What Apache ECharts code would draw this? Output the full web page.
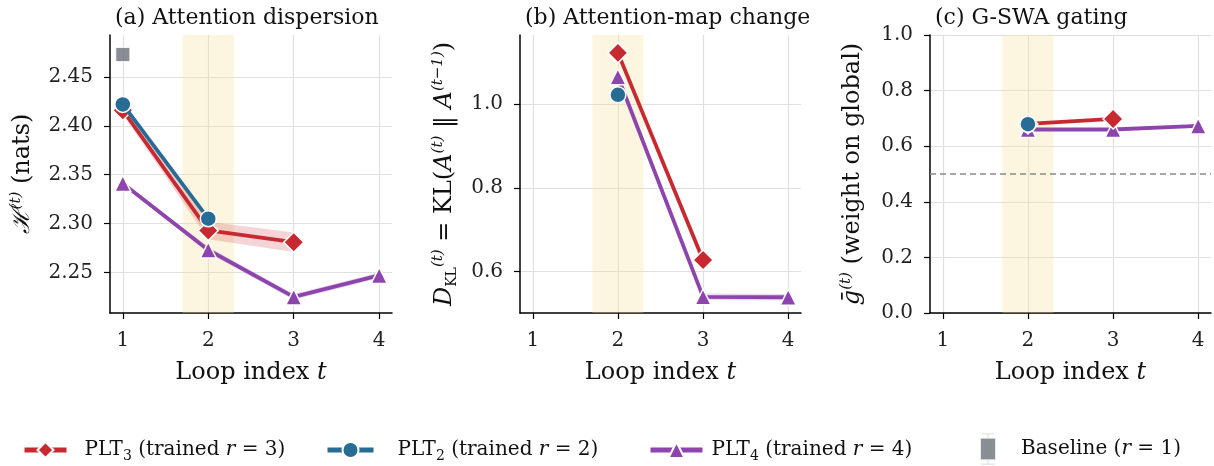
<!DOCTYPE html>
<html>
<head>
<meta charset="utf-8">
<script src="https://cdn.jsdelivr.net/npm/echarts@6/dist/echarts.min.js"></script>
<style>
  html, body { margin: 0; padding: 0; background: #fff; }
  #chart { width: 1214px; height: 466px; }
</style>
</head>
<body>
<div id="chart"></div>
<script>
// loop indices
var loops = [1, 2, 3, 4];
var xTicks = [1, 2, 3, 4];

// (a) attention entropy per loop
var plt3Entropy = [2.416, 2.293, 2.281];
var plt3EntropyErr = [0.004, 0.009, 0.010];
var plt2Entropy = [2.422, 2.305];
var plt4Entropy = [2.341, 2.273, 2.225, 2.247];
var plt4EntropyErr = [0.002, 0.003, 0.003, 0.003];
var baselineEntropy = [2.473];
var entropyTicks = [2.25, 2.30, 2.35, 2.40, 2.45];

// (b) KL change between loops (starts at t = 2)
var klLoops = [2, 3, 4];
var plt3Kl = [1.122, 0.628];
var plt2Kl = [1.022];
var plt4Kl = [1.065, 0.540, 0.539];
var plt4KlErr = [0.004, 0.008, 0.008];
var klTicks = [0.6, 0.8, 1.0];

// (c) gate weight on global branch
var plt3Gate = [0.680, 0.698];
var plt2Gate = [0.679];
var plt4Gate = [0.660, 0.660, 0.673];
var gateRef = 0.5;

var FONT = '"DejaVu Serif", "Liberation Serif", serif';
var RED = '#c62a30', BLUE = '#276c94', PURPLE = '#8e44ad', GRAY = '#6b7079';

var chart = echarts.init(document.getElementById('chart'));

function pairs(xs, ys) {
  return ys.map(function (v, i) { return [xs[i], v]; });
}
function bandData(xs, ys, err) {
  return ys.map(function (v, i) { return [xs[i], v - err[i], v + err[i]]; });
}

var richLabel = {
  n: { fontFamily: FONT, fontSize: 24, color: '#111', lineHeight: 28, verticalAlign: 'middle' },
  it: { fontFamily: FONT, fontSize: 24, fontStyle: 'italic', color: '#111', lineHeight: 28, verticalAlign: 'middle' },
  sup: { fontFamily: FONT, fontSize: 15, fontStyle: 'italic', color: '#111', lineHeight: 14, verticalAlign: 'top' },
  sub: { fontFamily: FONT, fontSize: 14, color: '#111', lineHeight: 14, verticalAlign: 'bottom' }
};

var grids = [
  { left: 110, top: 35, width: 282, height: 278, outerBoundsMode: 'none' },
  { left: 520, top: 35, width: 281, height: 278, outerBoundsMode: 'none' },
  { left: 930, top: 35, width: 281, height: 278, outerBoundsMode: 'none' }
];

function xAxisFor(i) {
  return {
    type: 'value', gridIndex: i, min: 0.85, max: 4.15,
    axisLine: { show: true, onZero: false, lineStyle: { color: '#000', width: 1.5 } },
    axisTick: { show: true, customValues: xTicks, length: 6, lineStyle: { color: '#000', width: 1.2 } },
    axisLabel: { customValues: xTicks, fontFamily: FONT, fontSize: 20, color: '#222', margin: 18 },
    splitLine: { show: true, lineStyle: { color: '#e0e0e0', width: 1.2 } },
    name: '{n|Loop index }{it|t}', nameLocation: 'middle', nameGap: 46,
    nameTextStyle: { rich: richLabel }
  };
}
function yAxisFor(i, o) {
  var ax = {
    type: 'value', gridIndex: i, min: o.min, max: o.max,
    axisLine: { show: true, onZero: false, lineStyle: { color: '#000', width: 1.5 } },
    axisTick: { show: true, length: 6, lineStyle: { color: '#000', width: 1.2 } },
    axisLabel: { fontFamily: FONT, fontSize: 20, color: '#222', margin: 17, formatter: o.fmt },
    splitLine: { show: true, lineStyle: { color: '#e0e0e0', width: 1.2 } },
    name: o.name, nameLocation: 'middle', nameGap: o.gap, nameRotate: 90,
    nameTextStyle: { rich: richLabel }
  };
  if (o.ticks) {
    ax.axisTick.customValues = o.ticks;
    ax.axisLabel.customValues = o.ticks;
  } else {
    ax.interval = o.interval;
  }
  return ax;
}

function lineSeries(name, gi, data, color, symbol, size, z) {
  return {
    name: name, type: 'line', xAxisIndex: gi, yAxisIndex: gi, data: data,
    symbol: symbol, symbolSize: size, z: z,
    lineStyle: { color: color, width: 3.8 },
    itemStyle: { color: color, borderColor: '#fff', borderWidth: 1.5 },
    emphasis: { disabled: true }, animation: false
  };
}
function band(gi, data, color) {
  return {
    type: 'custom', xAxisIndex: gi, yAxisIndex: gi, data: data, z: 1, silent: true,
    encode: { x: 0, y: [1, 2] },
    renderItem: function (params, api) {
      if (params.dataIndex !== 0) return;
      var top = [], bottom = [];
      data.forEach(function (d) {
        top.push(api.coord([d[0], d[2]]));
        bottom.unshift(api.coord([d[0], d[1]]));
      });
      return { type: 'polygon', shape: { points: top.concat(bottom) }, style: { fill: color } };
    },
    animation: false
  };
}
function shade(gi) {
  return {
    type: 'line', xAxisIndex: gi, yAxisIndex: gi, data: [], z: 0, silent: true,
    markArea: {
      silent: true,
      itemStyle: { color: 'rgba(245, 222, 150, 0.3)' },
      data: [[{ xAxis: 1.7 }, { xAxis: 2.3 }]]
    }
  };
}

var legendText = {
  PLT3: '{n|PLT}{sub|3}{n| (trained }{it|r}{n| = 3)}',
  PLT2: '{n|PLT}{sub|2}{n| (trained }{it|r}{n| = 2)}',
  PLT4: '{n|PLT}{sub|4}{n| (trained }{it|r}{n| = 4)}',
  Baseline: '{n|Baseline (}{it|r}{n| = 1)}'
};
var legendRich = {
  n: { fontFamily: FONT, fontSize: 20, color: '#111', lineHeight: 26, verticalAlign: 'middle' },
  it: { fontFamily: FONT, fontSize: 20, fontStyle: 'italic', color: '#111', lineHeight: 26, verticalAlign: 'middle' },
  sub: { fontFamily: FONT, fontSize: 14, color: '#111', lineHeight: 13, verticalAlign: 'bottom' }
};
function legendAt(left, top, items, w, h, pad) {
  return {
    left: left, top: top, orient: 'horizontal', data: items,
    itemWidth: w, itemHeight: h, selectedMode: false,
    lineStyle: { width: 5 },
    formatter: function (name) { return legendText[name]; },
    textStyle: { padding: [0, 0, 0, pad], rich: legendRich }
  };
}
var baselineIcon = 'path://M2,0H10V1H2Z M5.5,1H6.5V3H5.5Z M1,3H11V17H1Z M5.5,17H6.5V19H5.5Z M2,19H10V20H2Z';

var option = {
  backgroundColor: '#fff',
  animation: false,
  title: [
    { text: '(a) Attention dispersion', left: 110, top: 2 },
    { text: '(b) Attention-map change', left: 520, top: 2 },
    { text: '(c) G-SWA gating', left: 930, top: 2 }
  ].map(function (t) {
    t.textStyle = { fontFamily: FONT, fontSize: 22, fontWeight: 'normal', color: '#111' };
    return t;
  }),
  grid: grids,
  xAxis: [xAxisFor(0), xAxisFor(1), xAxisFor(2)],
  yAxis: [
    yAxisFor(0, { min: 2.2085, max: 2.493, ticks: entropyTicks, fmt: function (v) { return v.toFixed(2); },
      name: '{it|ℋ}{sup|(t)}{n| (nats)}', gap: 73 }),
    yAxisFor(1, { min: 0.5014, max: 1.1647, ticks: klTicks, fmt: function (v) { return v.toFixed(1); },
      name: '{it|D}{sub|KL}{sup|(t)}{n| = KL(}{it|A}{sup|(t)}{n| ‖ }{it|A}{sup|(t−1)}{n|)}', gap: 61 }),
    yAxisFor(2, { min: 0, max: 1, interval: 0.2, fmt: function (v) { return v.toFixed(1); },
      name: '{it|ḡ}{sup|(t)}{n| (weight on global)}', gap: 63 })
  ],
  legend: [
    legendAt(17, 435, ['PLT3'], 42, 20, 13),
    legendAt(320, 435, ['PLT2'], 46, 20, 19),
    legendAt(643, 435, ['PLT4'], 52, 20, 4),
    legendAt(974, 427, [{ name: 'Baseline', icon: baselineIcon, itemStyle: { color: GRAY } }], 16, 36, 20)
  ],
  series: [
    shade(0), shade(1), shade(2),
    // (a)
    band(0, bandData(loops, plt3Entropy, plt3EntropyErr), 'rgba(198, 42, 48, 0.2)'),
    band(0, bandData(loops, plt4Entropy, plt4EntropyErr), 'rgba(142, 68, 173, 0.2)'),
    lineSeries('PLT4', 0, pairs(loops, plt4Entropy), PURPLE, 'triangle', 16, 3),
    lineSeries('PLT3', 0, pairs(loops, plt3Entropy), RED, 'diamond', 20, 4),
    lineSeries('PLT2', 0, pairs(loops, plt2Entropy), BLUE, 'circle', 16, 5),
    {
      name: 'Baseline', type: 'scatter', xAxisIndex: 0, yAxisIndex: 0,
      data: pairs(loops, baselineEntropy), symbol: 'rect', symbolSize: 14, z: 5,
      itemStyle: { color: GRAY, borderColor: '#fff', borderWidth: 1 }
    },
    // (b)
    band(1, bandData(klLoops, plt4Kl, plt4KlErr), 'rgba(142, 68, 173, 0.2)'),
    lineSeries('PLT4', 1, pairs(klLoops, plt4Kl), PURPLE, 'triangle', 16, 3),
    lineSeries('PLT3', 1, pairs(klLoops, plt3Kl), RED, 'diamond', 20, 4),
    lineSeries('PLT2', 1, pairs(klLoops, plt2Kl), BLUE, 'circle', 16, 5),
    // (c)
    {
      type: 'line', xAxisIndex: 2, yAxisIndex: 2, data: [], silent: true,
      markLine: {
        silent: true, symbol: 'none', label: { show: false },
        lineStyle: { color: '#8a8a8a', type: [6, 4], width: 1.5 },
        data: [{ yAxis: gateRef }]
      }
    },
    lineSeries('PLT4', 2, pairs(klLoops, plt4Gate), PURPLE, 'triangle', 16, 3),
    lineSeries('PLT3', 2, pairs(klLoops, plt3Gate), RED, 'diamond', 20, 4),
    lineSeries('PLT2', 2, pairs(klLoops, plt2Gate), BLUE, 'circle', 16, 5)
  ]
};

chart.setOption(option);
</script>
</body>
</html>
